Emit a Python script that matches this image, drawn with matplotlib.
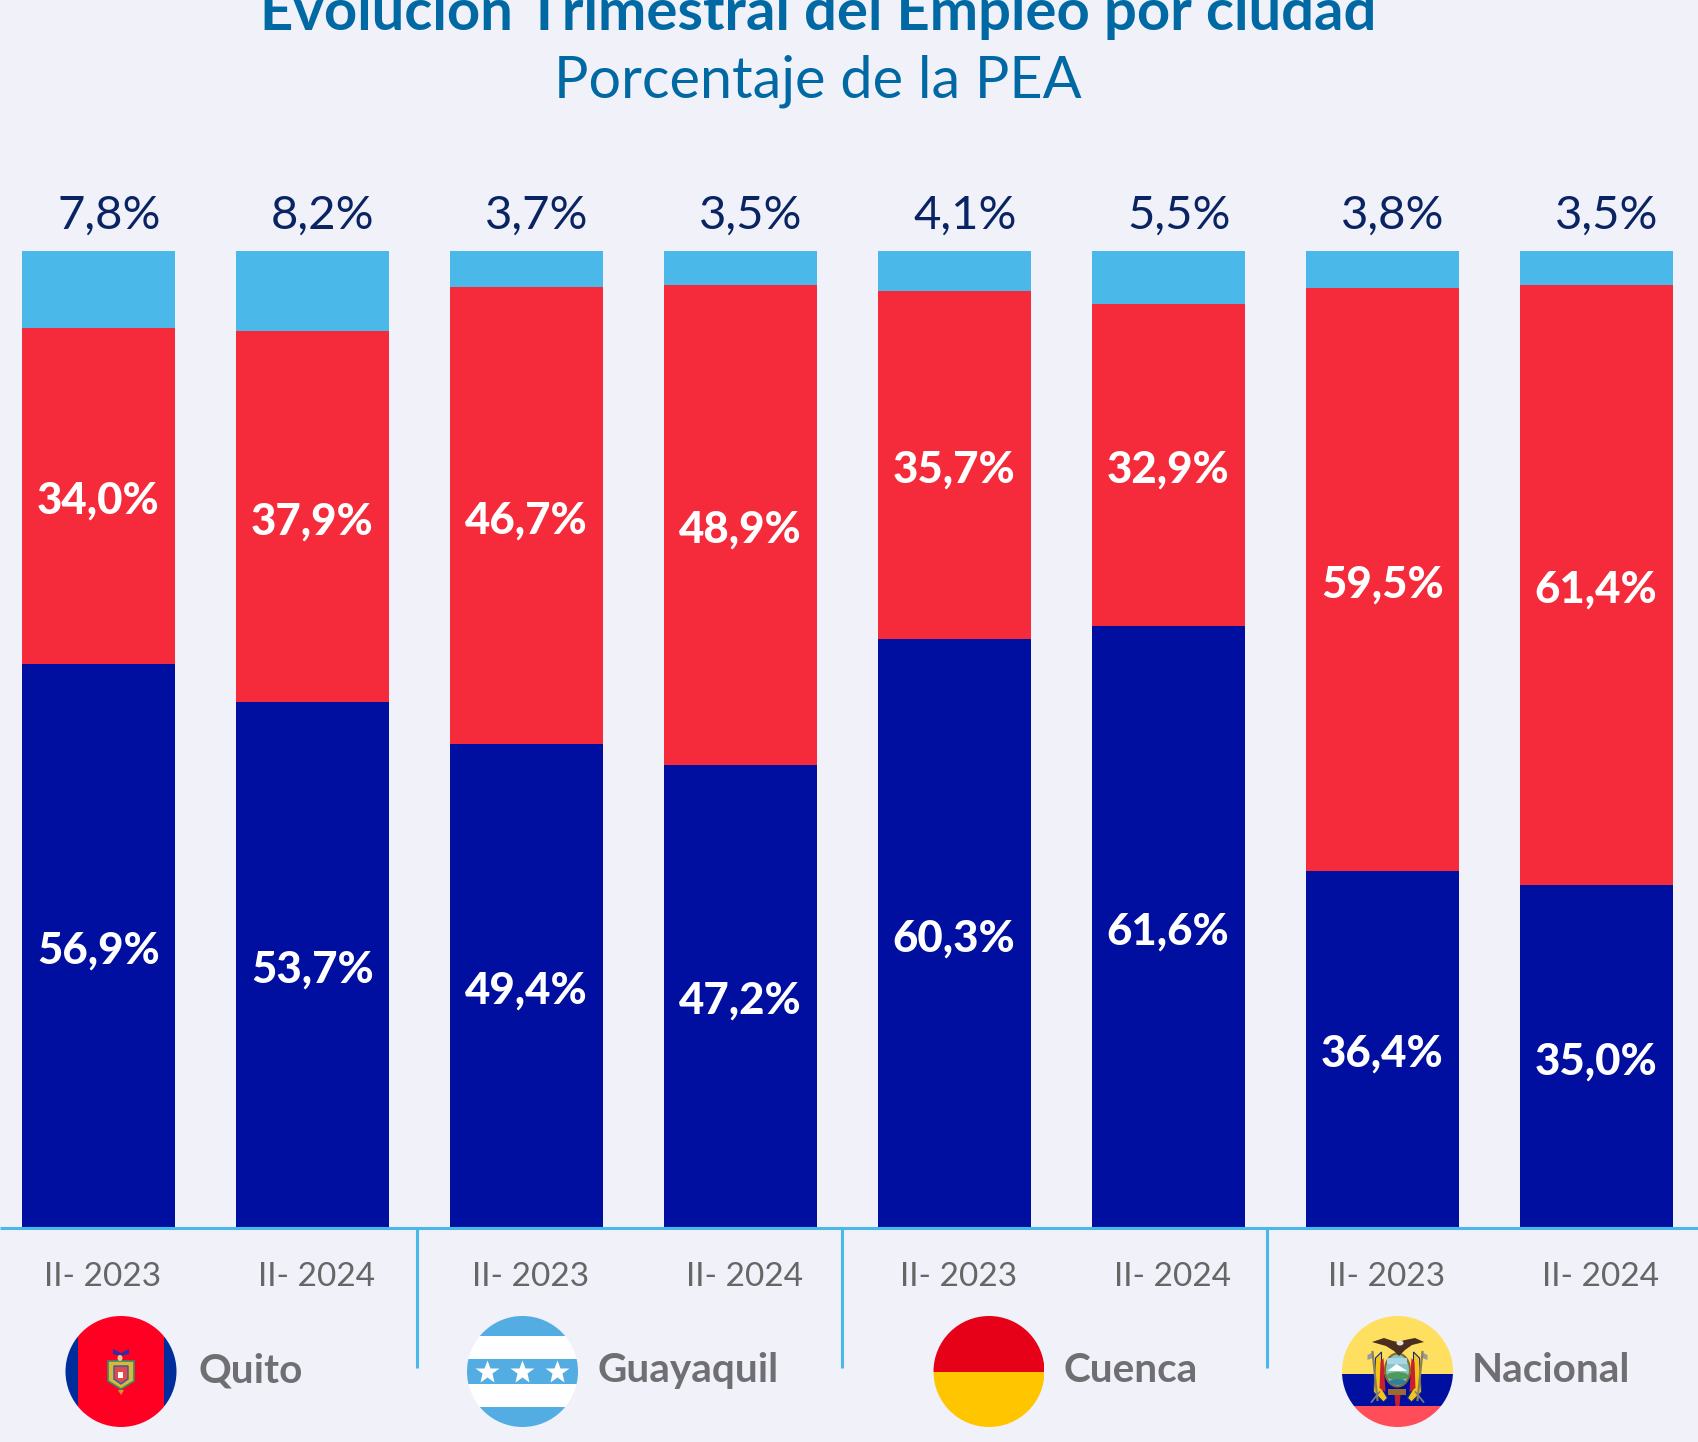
import matplotlib
matplotlib.use('Agg')
import matplotlib.pyplot as plt
from matplotlib.patches import Circle, Rectangle, Ellipse, Polygon
import numpy as np

W = 1699
H = 1442

periods = ['II- 2023', 'II- 2024'] * 4
cities = ['Quito', 'Guayaquil', 'Cuenca', 'Nacional']
adecuado = [56.9, 53.7, 49.4, 47.2, 60.3, 61.6, 36.4, 35.0]
subempleo = [34.0, 37.9, 46.7, 48.9, 35.7, 32.9, 59.5, 61.4]
desempleo = [7.8, 8.2, 3.7, 3.5, 4.1, 5.5, 3.8, 3.5]

BG = '#F0F1F9'
BLUE = '#000F9F'
RED = '#F52A3A'
SKY = '#4AB9EA'


def fmt(v):
    return f'{v:.1f}%'.replace('.', ',')


fig = plt.figure(figsize=(W / 100, H / 100), dpi=100, facecolor=BG)

# overlay in pixel coordinates for title, dividers and flags
px = fig.add_axes([0, 0, 1, 1], zorder=3)
px.set_xlim(0, W)
px.set_ylim(H, 0)
px.axis('off')

# the bars, normalised to 100 %
top_px = 250.5
base_px = 1227.5
ax = fig.add_axes([0, 1 - base_px / H, 1, (base_px - top_px) / H], zorder=1)
ax.set_facecolor('none')
ax.set_xlim(-98.2 / 214, (W - 98.2) / 214)
ax.set_ylim(0, 100)
ax.axis('off')

x = np.arange(8)
a = np.array(adecuado)
s = np.array(subempleo)
d = np.array(desempleo)
tot = a + s + d
a_n = a / tot * 100
s_n = s / tot * 100
d_n = d / tot * 100

ax.bar(x, a_n, width=153 / 214, color=BLUE)
ax.bar(x, s_n, width=153 / 214, bottom=a_n, color=RED)
ax.bar(x, d_n, width=153 / 214, bottom=a_n + s_n, color=SKY)

lab_off = -0.5  # labels sit a little under the middle of the segment
for i in range(8):
    ax.text(i, a_n[i] / 2 + lab_off, fmt(adecuado[i]), color='white', fontsize=31.5, family='Lato',
            fontweight='black', ha='center', va='center')
    ax.text(i, a_n[i] + s_n[i] / 2 + lab_off, fmt(subempleo[i]), color='white', fontsize=31.5, family='Lato',
            fontweight='black', ha='center', va='center')
    cx = 98 + 214 * i
    px.text(cx + 11, 229, fmt(desempleo[i]), color='#0A2463', fontsize=34, family='Lato',
            fontweight=400, ha='center', va='baseline')
    px.text(cx + 5, 1286, periods[i], color='#666666', fontsize=24, family='Lato',
            fontweight=400, ha='center', va='baseline')

px.text(818, 30, 'Evolución Trimestral del Empleo por ciudad', color='#0069A3', fontsize=41.8,
        family='Lato', fontweight='bold', ha='center', va='baseline')
px.text(818, 97.5, 'Porcentaje de la PEA', color='#0069A3', fontsize=41.5, family='Lato',
        fontweight=400, ha='center', va='baseline')

# axis line and dividers
px.plot([0, W], [1228, 1228], color=SKY, lw=2.2, solid_capstyle='butt')
for dx in [417, 842, 1267.5]:
    px.plot([dx, dx], [1228, 1368], color=SKY, lw=2.2, solid_capstyle='butt')

# city names
name_x = [198.5, 597.5, 1064, 1472]
for c, nx in zip(cities, name_x):
    px.text(nx, 1382, c, color='#6F6E72', fontsize=29.2, family='Lato', fontweight='bold',
            ha='left', va='baseline')


def flag(cx, stripes, r=55.5, cy=1371.5, vertical=False):
    clip = Circle((cx, cy), r, transform=px.transData, fc='none', ec='none')
    px.add_patch(clip)
    for start, end, col in stripes:
        if vertical:
            p = Rectangle((cx - r + start * 2 * r, cy - r), (end - start) * 2 * r, 2 * r, fc=col, ec='none')
        else:
            p = Rectangle((cx - r, cy - r + start * 2 * r), 2 * r, (end - start) * 2 * r, fc=col, ec='none')
        px.add_patch(p)
        p.set_clip_path(clip)


# Quito
flag(121, [(0, 0.11, '#002D9C'), (0.11, 0.89, '#FF0022'), (0.89, 1, '#002D9C')], vertical=True)
px.add_patch(Polygon([(108, 1361), (134, 1361), (134, 1381), (121, 1389), (108, 1381)],
                     fc='#D9B73A', ec='#2F8F6B', lw=1.2))
px.add_patch(Polygon([(114, 1366), (128, 1366), (128, 1379), (121, 1384), (114, 1379)],
                     fc='#E24A4A', ec='#2A5DA8', lw=1))
px.add_patch(Rectangle((118.5, 1372), 5, 6, fc='white', ec='none'))
px.add_patch(Polygon([(113, 1349), (121, 1353), (129, 1349), (129, 1354), (121, 1356), (113, 1354)],
                     fc='#2A2FA8', ec='none'))
px.add_patch(Ellipse((120, 1358), 5, 6, fc='#F2C58A', ec='none'))
px.add_patch(Polygon([(118, 1390), (124, 1390), (121, 1395)], fc='#D9962B', ec='none'))

# Guayaquil
flag(522.5, [(0, 0.18, '#53ADE2'), (0.18, 0.39, 'white'), (0.39, 0.61, '#53ADE2'),
             (0.61, 0.82, 'white'), (0.82, 1, '#53ADE2')])
px.plot([487.5, 522.5, 557.5], [1372, 1372, 1372], ls='none', marker='*', ms=18, mfc='white', mec='none')

# Cuenca
flag(989, [(0, 0.5, '#E60018'), (0.5, 1, '#FFC600')])

# Nacional
nc = 1397.5
flag(nc, [(0, 0.52, '#FFDF5F'), (0.52, 0.81, '#000F9F'), (0.81, 1, '#FF4D5A')])
# axes behind the shield
for sx in (-1, 1):
    px.plot([nc + sx * 20, nc + sx * 25], [1400, 1352], color='#8A7F5A', lw=1.5)
    px.plot([nc + sx * 18, nc + sx * 26], [1392, 1402], color='#7F7F7F', lw=1.2)
    px.add_patch(Polygon([(nc + sx * 24, 1352), (nc + sx * 30, 1355), (nc + sx * 30, 1360), (nc + sx * 25, 1358)],
                         fc='#9A9A9A', ec='none'))
    # flags either side of the shield
    px.add_patch(Polygon([(nc + sx * 16, 1352), (nc + sx * 22, 1358), (nc + sx * 24, 1392), (nc + sx * 14, 1402),
                          (nc + sx * 10, 1398), (nc + sx * 16, 1388)], fc='#F5C518', ec='#0F2A8A', lw=0.8))
    px.add_patch(Polygon([(nc + sx * 14, 1358), (nc + sx * 17, 1362), (nc + sx * 18, 1388), (nc + sx * 12, 1392)],
                         fc='#C8202F', ec='none'))
px.add_patch(Ellipse((nc, 1370), 25, 33, fc='#86C5C0', ec='#8A6A2A', lw=1.5))
px.add_patch(Rectangle((nc - 10, 1358), 20, 6, fc='#A9D5E8', ec='none'))
px.add_patch(Polygon([(nc - 10, 1371), (nc - 1, 1364), (nc + 10, 1371)], fc='white', ec='none'))
px.add_patch(Ellipse((nc, 1376), 22, 8, fc='#4F9A58', ec='none'))
px.add_patch(Ellipse((nc, 1382), 17, 6, fc='#2F7FA0', ec='none'))
# eagle
px.add_patch(Polygon([(1372, 1342), (1384, 1338), (1393, 1341), (1398, 1342), (1405, 1340), (1415, 1338), (1424, 1342),
                      (1412, 1345), (1405, 1350), (1399, 1356), (1394, 1351), (1386, 1346)],
                     fc='#4A2E1F', ec='none'))
px.add_patch(Ellipse((1400, 1343), 7, 5, fc='#E8E4DC', ec='none'))
# bundle and ribbon at the foot
px.add_patch(Rectangle((nc - 9, 1389), 18, 6, fc='#9A6B2E', ec='none'))
px.add_patch(Polygon([(nc - 3, 1395), (nc + 3, 1395), (nc + 2, 1406), (nc - 2, 1406)], fc='#C8202F', ec='none'))

fig.savefig('out.png', dpi=100, facecolor=BG)
